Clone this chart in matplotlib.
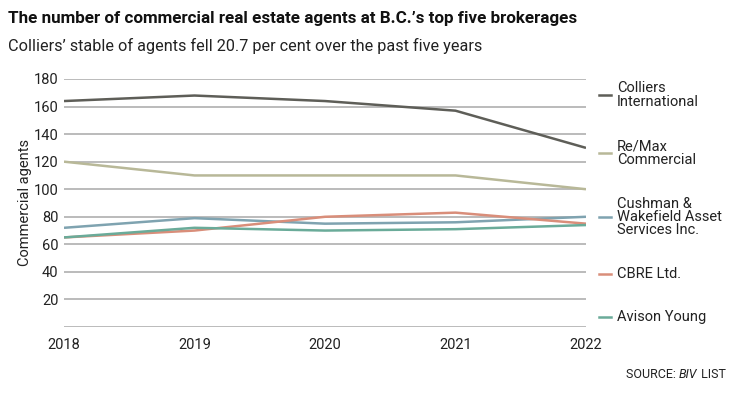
import matplotlib.pyplot as plt


years = [2018, 2019, 2020, 2021, 2022]
colliers = [164, 168, 164, 157, 130]
remax = [120, 110, 110, 110, 100]
cushman = [72, 79, 75, 76, 80]
cbre = [65, 70, 80, 83, 75]
avison = [65, 72, 70, 71, 74]

names = ['Colliers\nInternational', 'Re/Max\nCommercial',
         'Cushman &\nWakefield Asset\nServices Inc.', 'CBRE Ltd.', 'Avison Young']
colors = ['#5e5e58', '#b8b898', '#7fa3b0', '#d98e7a', '#6aab99']
y_ticks = [20, 40, 60, 80, 100, 120, 140, 160, 180]

plt.rcParams['font.family'] = ['Roboto', 'DejaVu Sans']
text_color = '#222222'

fig = plt.figure(figsize=(7.5, 3.96), dpi=100)
ax = fig.add_axes([64 / 750, 1 - 327 / 396, 522 / 750, 248 / 396])

for y in [0] + y_ticks:
    ax.axhline(y, color='#b5b5b5', linewidth=1.3, zorder=1)

series = [colliers, remax, cushman, cbre, avison]
for values, color in zip(series, colors):
    ax.plot(years, values, color=color, linewidth=1.8, zorder=3, solid_capstyle='butt')

ax.set_xlim(2018, 2022)
ax.set_ylim(0, 180)
ax.set_yticks(y_ticks)
ax.set_xticks(years)
ax.tick_params(length=0, labelsize=10.5, colors=text_color)
ax.tick_params(axis='x', pad=8)
ax.tick_params(axis='y', pad=4)
for s in ax.spines.values():
    s.set_visible(False)
ax.set_ylabel('Commercial agents', fontsize=10.5, color=text_color, labelpad=1)

# legend on the right
legend_y = [95, 153, 217, 274, 317]
for name, color, ly in zip(names, colors, legend_y):
    fy = 1 - ly / 396
    fig.add_artist(plt.Line2D([599 / 750, 611 / 750], [fy, fy], color=color,
                              linewidth=1.8, transform=fig.transFigure))
    fig.text(617 / 750, fy, name, fontsize=10.5, color=text_color, va='center',
             ha='left', linespacing=0.95)

renderer = fig.canvas.get_renderer()


def fit_text(x0, x1, y, s, size, **kw):
    t = fig.text(x0 / 750, 1 - y / 396, s, fontsize=size, va='center', **kw)
    w = t.get_window_extent(renderer).width
    t.set_fontsize(size * (x1 - x0) / w)
    return t


fit_text(8, 578, 18,
         'The number of commercial real estate agents at B.C.\u2019s top five brokerages',
         14, fontweight='bold', color='#111111')
fit_text(8, 480, 46,
         'Colliers\u2019 stable of agents fell 20.7 per cent over the past five years',
         12, color=text_color)

# source line, laid out piece by piece
x = 626
for part, style in [('SOURCE: ', 'normal'), ('BIV', 'italic'), (' LIST', 'normal')]:
    t = fig.text(x / 750, 1 - 374 / 396, part, fontsize=9, color=text_color,
                 style=style, ha='left', va='center')
    x += t.get_window_extent(renderer).width

fig.savefig('out.png', dpi=100)
